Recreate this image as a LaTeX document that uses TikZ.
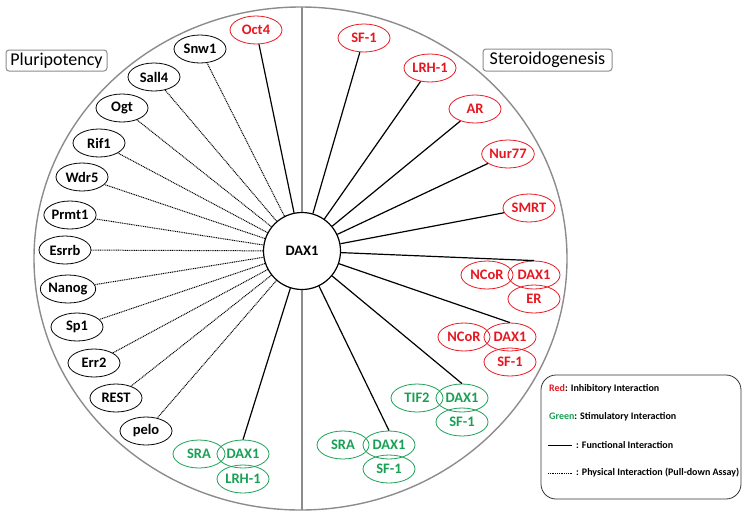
\documentclass[tikz,border=0pt]{standalone}
\usepackage{fontspec}
\setmainfont{Carlito}
\usetikzlibrary{shapes.geometric}
\definecolor{ired}{RGB}{232,22,32}
\definecolor{igreen}{RGB}{24,160,84}
\definecolor{rimgray}{RGB}{140,140,140}
\begin{document}
\begin{tikzpicture}[x=1pt,y=-1pt,
  prot/.style={ellipse,draw,minimum width=52pt,minimum height=28pt,inner sep=0pt,
    font=\fontsize{14.5}{14.5}\selectfont\bfseries,line width=0.8pt},
  blk/.style={prot,draw=black,text=black},
  rd/.style={prot,draw=ired,text=ired},
  gr/.style={prot,draw=igreen,text=igreen},
  func/.style={draw=black,line width=1.2pt},
  phys/.style={draw=black,line width=1pt,dash pattern=on 1pt off 0.8pt},
  rim/.style={draw=rimgray,line width=1.4pt},
  tagbox/.style={draw=rimgray,rounded corners=3pt,line width=1pt,inner sep=2pt,
    font=\fontsize{18}{18}\selectfont},
  legtext/.style={anchor=west,inner sep=0pt,font=\fontsize{10}{10}\selectfont\bfseries}
]
\useasboundingbox (0,0) rectangle (746,517);
% outer ellipse
\draw[rim] (300.5,258.5) ellipse [x radius=266.5pt, y radius=251.5pt];
% center
\node[circle,draw,line width=1.2pt,minimum size=77pt,inner sep=0pt,
  font=\fontsize{14.5}{14.5}\selectfont\bfseries] (dax) at (302,251) {DAX1};
\coordinate (top) at (302,7);
\coordinate (bot) at (302,510);
\draw[rim] (top) -- (dax.north);
\draw[rim] (dax.south) -- (bot);

% tags
\node[tagbox,minimum width=101pt,minimum height=21pt] (plu) at (56.5,60.5) {Pluripotency};
\node[tagbox,minimum width=129pt,minimum height=22pt] (ste) at (547.5,60) {Steroidogenesis};

% pluripotency
\node[rd]  (oct4)  at (256,30)  {Oct4};
\node[blk] (snw1)  at (200,49)  {Snw1};
\node[blk] (sall4) at (154,77)  {Sall4};
\node[blk] (ogt)   at (122,108) {Ogt};
\node[blk] (rif1)  at (99,143)  {Rif1};
\node[blk] (wdr5)  at (82,177)  {Wdr5};
\node[blk] (prmt1) at (70,215)  {Prmt1};
\node[blk] (esrrb) at (65,250)  {Esrrb};
\node[blk] (nanog) at (68,289)  {Nanog};
\node[blk] (sp1)   at (77,327)  {Sp1};
\node[blk] (err2)  at (94,363)  {Err2};
\node[blk] (rest)  at (116,398) {REST};
\node[blk] (pelo)  at (146,431) {pelo};
\node[gr] (sraA)  at (199,454) {SRA};
\node[gr] (daxA)  at (243,454) {DAX1};
\node[gr] (lrhA)  at (243,479) {LRH-1};

\draw[func] (dax) -- (oct4);
\foreach \n in {snw1,sall4,ogt,rif1,wdr5,prmt1,esrrb,nanog,sp1,err2,rest,pelo}
  \draw[phys] (dax) -- (\n);
\draw[func] (dax) -- (daxA.north);

% steroidogenesis
\node[rd] (sf1)   at (364,38)  {SF-1};
\node[rd] (lrh1)  at (430,68)  {LRH-1};
\node[rd] (ar)    at (475,109) {AR};
\node[rd] (nur77) at (508,154) {Nur77};
\node[rd] (smrt)  at (529,208) {SMRT};
\node[rd] (ncorB) at (487,275) {NCoR};
\node[rd] (daxB)  at (534,275) {DAX1};
\node[rd] (erB)   at (534,299) {ER};
\node[rd] (ncorC) at (464,337) {NCoR};
\node[rd] (daxC)  at (510,337) {DAX1};
\node[rd] (sfC)   at (510,362) {SF-1};
\node[gr] (tifD)  at (417,398) {TIF2};
\node[gr] (daxD)  at (462,398) {DAX1};
\node[gr] (sfD)   at (462,422) {SF-1};
\node[gr] (sraE)  at (343,445) {SRA};
\node[gr] (daxE)  at (389,445) {DAX1};
\node[gr] (sfE)   at (389,469) {SF-1};

\foreach \n in {sf1,lrh1,ar,nur77,smrt}
  \draw[func] (dax) -- (\n);
\foreach \n in {daxB,daxC,daxD,daxE}
  \draw[func] (dax) -- (\n.north);

% legend
\node[draw=black!80,rounded corners=15pt,line width=0.8pt,minimum width=200pt,
  minimum height=124pt,inner sep=0pt] (leg) at (641,437) {};
\node[legtext] (l1) at (549,389) {\textcolor{ired}{Red}: Inhibitory Interaction};
\node[legtext] (l2) at (549,417) {\textcolor{igreen}{Green}: Stimulatory Interaction};
\coordinate (f1) at (548,445);
\coordinate (f2) at (572,445);
\draw[func,line width=1pt] (f1) -- (f2);
\node[legtext] (l3) at (576,445) {: Functional Interaction};
\coordinate (p1) at (548,473);
\coordinate (p2) at (572,473);
\draw[phys,line width=0.8pt] (p1) -- (p2);
\node[legtext] (l4) at (576,473) {: Physical Interaction (Pull-down Assay)};
\end{tikzpicture}
\end{document}
